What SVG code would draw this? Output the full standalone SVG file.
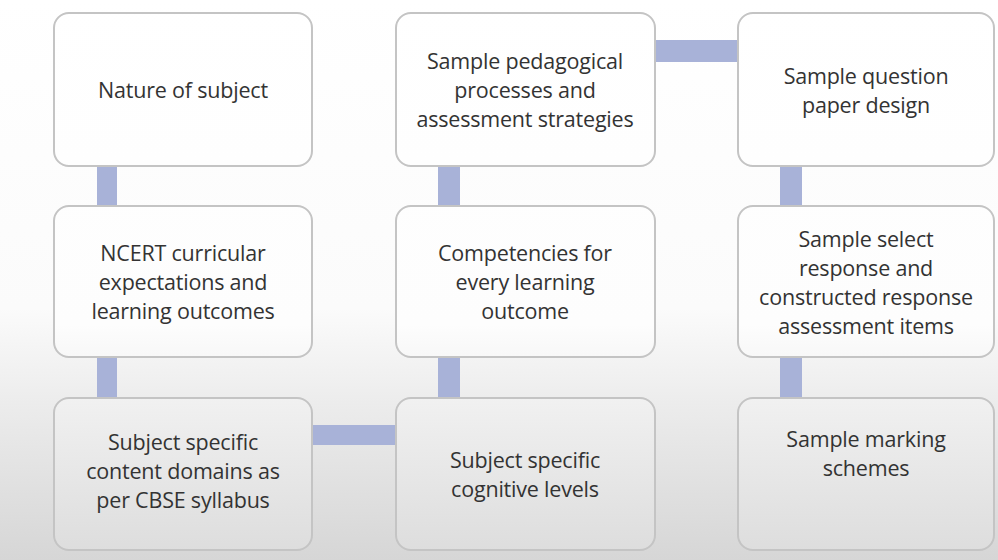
<svg xmlns="http://www.w3.org/2000/svg" width="998" height="560" viewBox="0 0 998 560">
<defs>
<linearGradient id="bg" x1="0" y1="0" x2="0" y2="560" gradientUnits="userSpaceOnUse">
<stop offset="0" stop-color="#ffffff"/>
<stop offset="0.55" stop-color="#fbfbfb"/>
<stop offset="0.72" stop-color="#ececec"/>
<stop offset="1" stop-color="#d6d6d6"/>
</linearGradient>
<linearGradient id="bf" x1="0" y1="0" x2="0" y2="560" gradientUnits="userSpaceOnUse">
<stop offset="0" stop-color="#ffffff"/>
<stop offset="0.58" stop-color="#fdfdfd"/>
<stop offset="0.72" stop-color="#f0f0f0"/>
<stop offset="1" stop-color="#dcdcdc"/>
</linearGradient>
<style>
.box{fill:url(#bf);stroke:#c4c4c4;stroke-width:2}
.t{font-family:"Open Sans","Liberation Sans",sans-serif;font-size:21.5px;fill:#333333;text-anchor:middle;letter-spacing:-0.2px}
.c{fill:#a8b2d8}
</style>
</defs>
<rect width="998" height="560" fill="url(#bg)"/>
<g id="connectors">
<rect class="c" x="97" y="166" width="20" height="40"/>
<rect class="c" x="97" y="357" width="20" height="41"/>
<rect class="c" x="438" y="166" width="22" height="40"/>
<rect class="c" x="438" y="357" width="22" height="41"/>
<rect class="c" x="780" y="166" width="22" height="40"/>
<rect class="c" x="780" y="357" width="22" height="41"/>
<rect class="c" x="655" y="40" width="83" height="22"/>
<rect class="c" x="312" y="425" width="84" height="20"/>
</g>
<g id="n1"><rect class="box" x="54" y="13" width="258" height="153" rx="15"/>
<text class="t" x="183" y="98">Nature of subject</text></g>
<g id="n2"><rect class="box" x="396" y="13" width="259" height="153" rx="15"/>
<text class="t" x="525" y="69">Sample pedagogical</text>
<text class="t" x="525" y="98">processes and</text>
<text class="t" x="525" y="127">assessment strategies</text></g>
<g id="n3"><rect class="box" x="738" y="13" width="256" height="153" rx="15"/>
<text class="t" x="866" y="84">Sample question</text>
<text class="t" x="866" y="113">paper design</text></g>
<g id="n4"><rect class="box" x="54" y="206" width="258" height="151" rx="15"/>
<text class="t" x="183" y="261">NCERT curricular</text>
<text class="t" x="183" y="290">expectations and</text>
<text class="t" x="183" y="319">learning outcomes</text></g>
<g id="n5"><rect class="box" x="396" y="206" width="259" height="151" rx="15"/>
<text class="t" x="525" y="261">Competencies for</text>
<text class="t" x="525" y="290">every learning</text>
<text class="t" x="525" y="319">outcome</text></g>
<g id="n6"><rect class="box" x="738" y="206" width="256" height="151" rx="15"/>
<text class="t" x="866" y="247">Sample select</text>
<text class="t" x="866" y="276">response and</text>
<text class="t" x="866" y="305">constructed response</text>
<text class="t" x="866" y="334">assessment items</text></g>
<g id="n7"><rect class="box" x="54" y="398" width="258" height="152" rx="15"/>
<text class="t" x="183" y="450">Subject specific</text>
<text class="t" x="183" y="479">content domains as</text>
<text class="t" x="183" y="508">per CBSE syllabus</text></g>
<g id="n8"><rect class="box" x="396" y="398" width="259" height="152" rx="15"/>
<text class="t" x="525" y="468">Subject specific</text>
<text class="t" x="525" y="497">cognitive levels</text></g>
<g id="n9"><rect class="box" x="738" y="398" width="256" height="152" rx="15"/>
<text class="t" x="866" y="447">Sample marking</text>
<text class="t" x="866" y="476">schemes</text></g>
</svg>
